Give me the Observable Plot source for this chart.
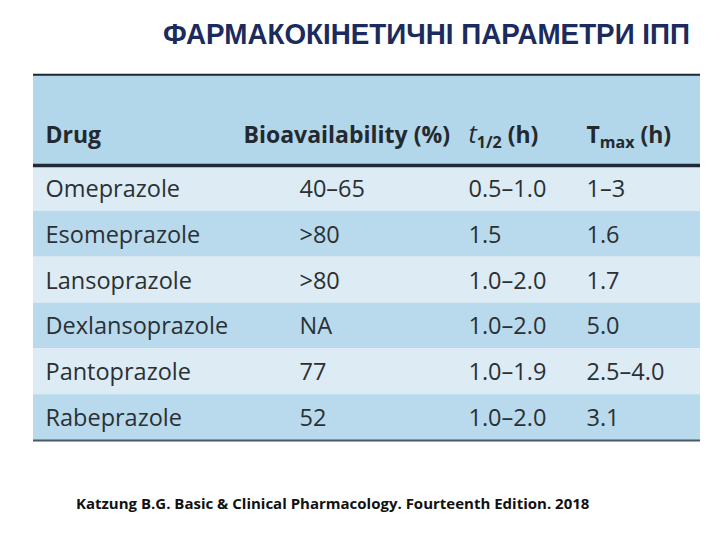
<!DOCTYPE html>
<html>
<head>
<meta charset="utf-8">
<script src="https://cdn.jsdelivr.net/npm/d3@7"></script>
<script src="https://cdn.jsdelivr.net/npm/@observablehq/plot@0.6"></script>
<style>
  html, body { margin: 0; padding: 0; background: #fff; }
  #wrap { position: relative; width: 720px; height: 540px; }
  #title { position: absolute; top: 14px; left: 0; }
  #chart { position: absolute; top: 60px; left: 0; }
  #caption { position: absolute; top: 493px; left: 76px; font-family: "Open Sans", sans-serif; font-weight: bold; font-size: 15px; color: #111; white-space: nowrap; }
</style>
</head>
<body>
<div id="wrap">
  <svg id="title" width="720" height="40">
    <text x="163" y="30" textLength="527" lengthAdjust="spacingAndGlyphs"
      font-family="Liberation Sans Narrow, Arial Narrow, Liberation Sans, sans-serif"
      font-weight="bold" font-size="24" fill="#1b2b5e" transform="translate(0,30) scale(1,1.2) translate(0,-30)">ФАРМАКОКІНЕТИЧНІ ПАРАМЕТРИ ІПП</text>
  </svg>
  <div id="chart"></div>
  <div id="caption">Katzung B.G. Basic &amp; Clinical Pharmacology. Fourteenth Edition. 2018</div>
</div>
<script>
// ---- data ----
const drugs = ["Omeprazole", "Esomeprazole", "Lansoprazole", "Dexlansoprazole", "Pantoprazole", "Rabeprazole"];
const bioavailability = ["40–65", ">80", ">80", "NA", "77", "52"];
const halfLife = ["0.5–1.0", "1.5", "1.0–2.0", "1.0–2.0", "1.0–1.9", "1.0–2.0"];
const tmax = ["1–3", "1.6", "1.7", "5.0", "2.5–4.0", "3.1"];
const headers = ["Drug", "Bioavailability (%)", "t1/2 (h)", "Tmax (h)"];

// ---- layout (not data) ----
const colX = [45, 299, 468, 586];       // value column anchors
const headX = [45, 243, 468, 586];      // header anchors
const tableLeft = 33, tableRight = 700;
const headerRows = 1.98;                // header height in row units

const rows = drugs.map((d, i) => ({
  i, drug: d, bio: bioavailability[i], half: halfLife[i], tmax: tmax[i]
}));
const cells = rows.flatMap(r => [
  {i: r.i, col: 0, text: r.drug},
  {i: r.i, col: 1, text: r.bio},
  {i: r.i, col: 2, text: r.half},
  {i: r.i, col: 3, text: r.tmax}
]);
const headCells = headers.map((h, c) => ({col: c, text: h}));

const rowFill = ["#dcebf4", "#b9daec"];

const plot = Plot.plot({
  width: 720,
  height: 400,
  margin: 0,
  x: {type: "identity", axis: null},
  y: {type: "linear", domain: [0, drugs.length], range: [105, 380], axis: null},
  marks: [
    // header background
    Plot.rect([headerRows], {x1: tableLeft, x2: tableRight, y1: d => -d, y2: 0, fill: "#b2d6ea"}),
    // row bands
    Plot.rect(rows, {x1: tableLeft, x2: tableRight, y1: d => d.i, y2: d => d.i + 1, fill: d => rowFill[d.i % 2]}),
    // body text
    Plot.text(cells, {
      x: d => colX[d.col], y: d => d.i + 0.5, text: "text",
      textAnchor: "start", fontSize: 23.5, fill: "#2b3034",
      fontFamily: "Open Sans, Noto Sans, sans-serif", dy: 1
    }),
    // header text
    Plot.text(headCells, {
      x: d => headX[d.col], y: -0.65, text: "text",
      textAnchor: "start", fontSize: 23, fontWeight: "bold", fill: "#23292e",
      fontFamily: "Open Sans, Noto Sans, sans-serif", className: "hdr"
    }),
    // lines
    Plot.ruleY([-headerRows], {x1: tableLeft, x2: tableRight, stroke: "#1c2633", strokeWidth: 2}),
    Plot.ruleY([0], {x1: tableLeft, x2: tableRight, stroke: "#1f2a36", strokeWidth: 3.5}),
    Plot.ruleY([drugs.length], {x1: tableLeft, x2: tableRight, stroke: "#4a5863", strokeWidth: 2})
  ]
});

document.getElementById("chart").appendChild(plot);

// rich header text (subscripts, italic t)
d3.select(plot).selectAll("g.hdr text").each(function() {
  const t = d3.select(this);
  const txt = t.text();
  if (txt.startsWith("t1/2")) {
    t.text("");
    t.append("tspan").attr("font-style", "italic").attr("font-weight", "normal").attr("font-size", 25).text("t");
    t.append("tspan").attr("font-size", 16).attr("dy", 5).text("1/2");
    t.append("tspan").attr("dy", -5).text(" (h)");
  } else if (txt.startsWith("Tmax")) {
    t.text("");
    t.append("tspan").text("T");
    t.append("tspan").attr("font-size", 16).attr("dy", 5).text("max");
    t.append("tspan").attr("dy", -5).text(" (h)");
  }
});
</script>
</body>
</html>
